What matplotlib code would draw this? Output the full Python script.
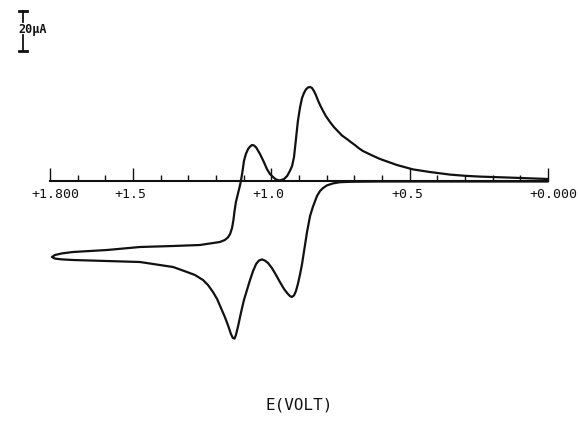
import matplotlib
matplotlib.use("Agg")
import matplotlib.pyplot as plt
import matplotlib.transforms as mtransforms
from matplotlib.ticker import FixedLocator, NullFormatter

LINE_COLOR = "#111111"
FONT = "DejaVu Sans Mono"

# potential (V) and current (uA)
scan_out_e = [0.000, 0.354, 0.607, 0.716, 0.752, 0.777, 0.799, 0.813, 0.824, 0.835,
              0.842, 0.850, 0.860, 0.871, 0.882, 0.889, 0.896, 0.904, 0.911, 0.918,
              0.926, 0.933, 0.943, 0.954, 0.969, 0.983, 0.998, 1.012, 1.023, 1.034,
              1.045, 1.055, 1.066, 1.077, 1.088, 1.099, 1.110, 1.120, 1.128, 1.133,
              1.139, 1.146, 1.157, 1.168, 1.182, 1.196, 1.211, 1.229, 1.247, 1.276,
              1.305, 1.355, 1.413, 1.475, 1.594, 1.717, 1.757, 1.782, 1.793]
scan_out_i = [-0.25, -0.25, -0.25, -0.4, -0.6, -1.2, -2.2, -3.5, -5.0, -7.5,
              -10.0, -13.0, -17.5, -25.5, -35.5, -41.5, -46.5, -51.5, -55.0, -57.2,
              -58.0, -57.5, -56.0, -54.0, -50.5, -47.0, -43.5, -41.0, -39.8, -39.2,
              -39.8, -41.5, -45.0, -49.5, -54.5, -59.5, -66.0, -72.5, -77.0, -78.8,
              -78.5, -76.5, -72.0, -68.0, -63.5, -59.0, -55.5, -52.0, -49.5, -47.0,
              -45.5, -43.0, -41.8, -40.5, -40.0, -39.5, -39.2, -38.8, -38.0]

scan_back_e = [1.793, 1.782, 1.757, 1.717, 1.594, 1.475, 1.355, 1.258, 1.211, 1.186,
               1.168, 1.157, 1.149, 1.142, 1.137, 1.133, 1.128, 1.120, 1.113, 1.110,
               1.104, 1.099, 1.092, 1.084, 1.077, 1.070, 1.063, 1.055, 1.048, 1.041,
               1.034, 1.027, 1.016, 1.005, 0.994, 0.983, 0.969, 0.954, 0.943, 0.933,
               0.925, 0.918, 0.911, 0.904, 0.896, 0.889, 0.882, 0.875, 0.867, 0.860,
               0.853, 0.846, 0.839, 0.832, 0.824, 0.813, 0.803, 0.788, 0.774, 0.759,
               0.745, 0.727, 0.712, 0.698, 0.684, 0.669, 0.636, 0.607, 0.575, 0.546,
               0.488, 0.427, 0.354, 0.300, 0.246, 0.138, 0.000]
scan_back_i = [-38.0, -37.0, -36.2, -35.5, -34.5, -33.0, -32.5, -32.0, -31.0, -30.5,
               -29.5, -28.2, -26.5, -23.5, -19.5, -15.0, -10.5, -6.0, -2.0, 0.0,
               5.0, 10.0, 13.5, 16.0, 17.2, 18.0, 17.8, 16.8, 15.2, 13.5,
               11.5, 9.5, 6.0, 3.5, 2.0, 0.75, 0.25, 1.0, 2.5, 5.0,
               7.5, 12.0, 21.0, 30.0, 37.0, 41.5, 44.0, 45.8, 46.8, 47.0,
               46.5, 45.0, 43.0, 40.5, 38.0, 35.0, 32.5, 29.5, 27.0, 24.8,
               22.8, 21.0, 19.4, 18.0, 16.4, 15.0, 12.8, 11.0, 9.4, 8.0,
               5.8, 4.5, 3.2, 2.6, 2.2, 1.7, 1.0]

tick_values = [1.8, 1.5, 1.0, 0.5, 0.0]
tick_labels = ["+1.800", "+1.5", "+1.0", "+0.5", "+0.000"]
minor_values = [round(0.1 * k, 1) for k in range(19)]

fig = plt.figure(figsize=(5.78, 4.27), dpi=100)
ax = fig.add_axes([0, 0, 1, 1])
ax.set_xlim(1.9807, -0.1084)
ax.set_ylim(-122.5, 91)

ax.plot(scan_out_e + scan_back_e, scan_out_i + scan_back_i, color=LINE_COLOR,
        linewidth=1.6, solid_joinstyle="round", solid_capstyle="round")

# axis drawn along zero current
for side in ["left", "right", "top"]:
    ax.spines[side].set_visible(False)
ax.spines["bottom"].set_position(("data", 0))
ax.spines["bottom"].set_bounds(0.0, 1.8)
ax.spines["bottom"].set_linewidth(1.5)
ax.spines["bottom"].set_color(LINE_COLOR)
ax.xaxis.set_major_locator(FixedLocator(tick_values))
ax.xaxis.set_minor_locator(FixedLocator(minor_values))
ax.xaxis.set_major_formatter(NullFormatter())
ax.tick_params(axis="x", which="major", direction="in", length=9.5, width=1.0,
               color=LINE_COLOR)
ax.tick_params(axis="x", which="minor", direction="in", length=4.5, width=1.0,
               color=LINE_COLOR)
ax.set_yticks([])

shift = mtransforms.ScaledTranslation(-0.185, -0.065, fig.dpi_scale_trans)
for v, lab in zip(tick_values, tick_labels):
    ax.text(v, 0, lab, transform=ax.transData + shift, ha="left", va="top",
            fontsize=9.5, family=FONT, color=LINE_COLOR)

# 20 uA scale bar
bar_x = 1.8987
cap = 0.0145
ax.plot([bar_x, bar_x], [85, 79.5], color=LINE_COLOR, linewidth=1.3)
ax.plot([bar_x, bar_x], [73, 65], color=LINE_COLOR, linewidth=1.3)
ax.plot([bar_x - cap, bar_x + cap], [85, 85], color=LINE_COLOR, linewidth=2)
ax.plot([bar_x - cap, bar_x + cap], [65, 65], color=LINE_COLOR, linewidth=2)
ax.text(1.913, 76.5, "20\u00b5A", ha="left", va="center", fontsize=8.5,
        family=FONT, fontweight="bold", color=LINE_COLOR)

ax.text(0.9, -111.5, "E(VOLT)", ha="center", va="center", fontsize=11.5,
        family=FONT, color=LINE_COLOR)

fig.savefig("out.png", dpi=100, facecolor="white")
